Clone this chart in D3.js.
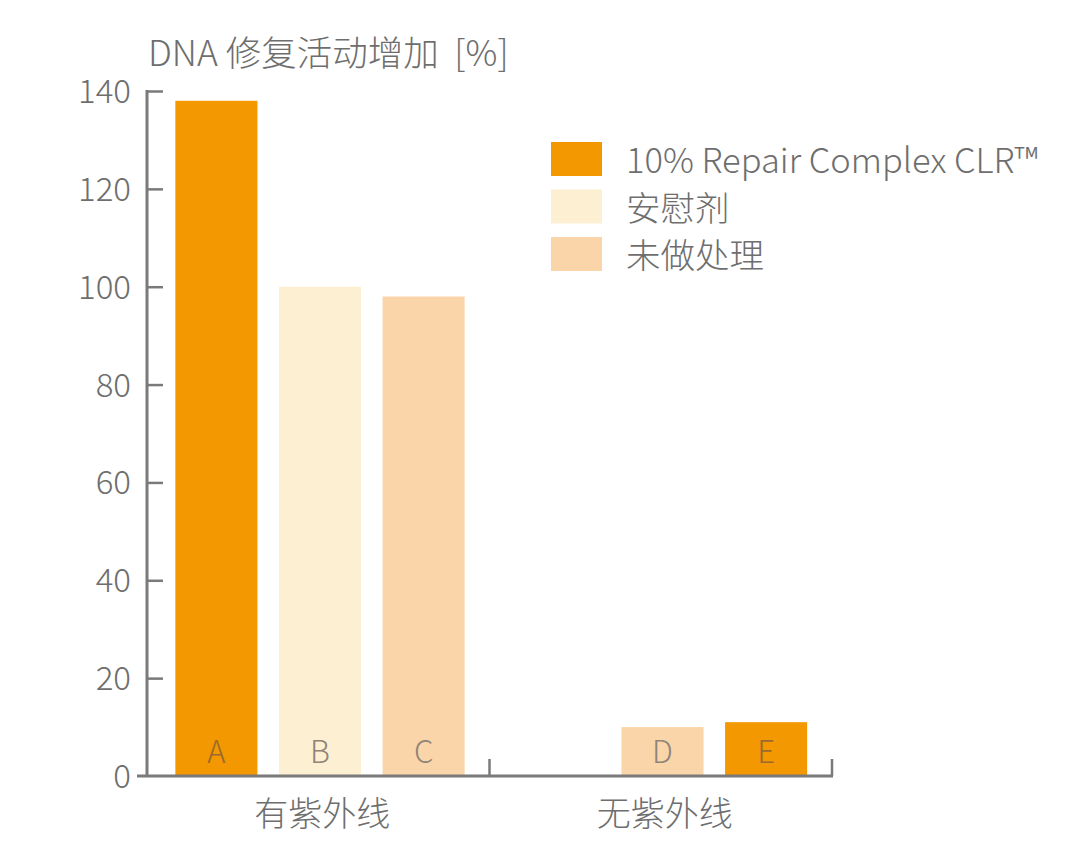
<!DOCTYPE html>
<html><head><meta charset="utf-8">
<script src="https://cdn.jsdelivr.net/npm/d3@7"></script>
<style>
html,body{margin:0;padding:0;background:#fff;}
text{font-family:"Noto Sans CJK SC","Noto Sans",sans-serif;font-weight:300;}
</style></head>
<body>
<svg id="chart" width="1080" height="848"></svg>
<script>
// ---- data ----
const groups = ["有紫外线", "无紫外线"];
const seriesNames = ["10% Repair Complex CLR™", "安慰剂", "未做处理"];
const seriesColors = ["#F39800", "#FDEFD2", "#FAD5AA"];
const barLetters = ["A", "B", "C", "D", "E"];
const barGroup = ["有紫外线", "有紫外线", "有紫外线", "无紫外线", "无紫外线"];
const barSlot = [0, 1, 2, 1, 2];
const barSeries = [0, 1, 2, 2, 0];
const barValues = [138, 100, 98, 10, 11];
const yTicks = [0, 20, 40, 60, 80, 100, 120, 140];
const yTitle = "DNA 修复活动增加\u00a0\u00a0[%]";

// ---- layout ----
const svg = d3.select("#chart");
const x0 = 147, x1 = 832, yBase = 776, yTop = 91;
const textColor = "#6e6e6e", axisColor = "#7a7a7a";

const y = d3.scaleLinear().domain([0, 140]).range([yBase, yTop]);
const xg = d3.scaleBand().domain(groups).range([x0, x1]);
const xs = d3.scaleBand().domain([0, 1, 2]).range([18, 328]).paddingInner(0.208).paddingOuter(0.1);

// bars
const bars = barValues.map((v, i) => ({v, i}));
svg.append("g").selectAll("rect").data(bars).join("rect")
  .attr("x", d => xg(barGroup[d.i]) + xs(barSlot[d.i]))
  .attr("width", xs.bandwidth())
  .attr("y", d => y(d.v))
  .attr("height", d => y(0) - y(d.v))
  .attr("fill", d => seriesColors[barSeries[d.i]]);

// letters inside bars
svg.append("g").selectAll("text").data(bars).join("text")
  .attr("x", d => xg(barGroup[d.i]) + xs(barSlot[d.i]) + xs.bandwidth() / 2)
  .attr("y", y(0) - 13)
  .attr("text-anchor", "middle")
  .attr("font-size", 31)
  .attr("fill", d => barSeries[d.i] === 0 ? "#9a6a2e" : "#8e8478")
  .text(d => barLetters[d.i]);

// y axis
const yAxis = d3.axisRight(y).tickValues(yTicks).tickSize(16).tickFormat("");
const gy = svg.append("g").attr("transform", `translate(${x0},0)`).call(yAxis);
gy.select(".domain").remove();
gy.selectAll(".tick line").attr("stroke", axisColor).attr("stroke-width", 2.5).filter(d => d === 0).remove();
gy.append("line").attr("x1", 0).attr("x2", 0).attr("y1", y(140) - 1).attr("y2", y(0))
  .attr("stroke", axisColor).attr("stroke-width", 3);
svg.append("g").selectAll("text").data(yTicks).join("text")
  .attr("x", 131).attr("y", d => y(d) + 12)
  .attr("text-anchor", "end").attr("font-size", 33).attr("fill", textColor)
  .text(d => d);

// x axis
const gx = svg.append("g").attr("transform", `translate(0,${yBase})`)
  .call(d3.axisTop(xg).tickValues([]).tickSize(0));
gx.select(".domain").remove();
gx.append("line").attr("x1", 137).attr("x2", x1 + 1).attr("y1", 0).attr("y2", 0)
  .attr("stroke", axisColor).attr("stroke-width", 3);
gx.selectAll("line.sep").data([xg(groups[1]), x1]).join("line").attr("class", "sep")
  .attr("x1", d => d).attr("x2", d => d).attr("y1", 0).attr("y2", -17)
  .attr("stroke", axisColor).attr("stroke-width", 2.5);
svg.append("g").selectAll("text").data(groups).join("text")
  .attr("x", d => xg(d) + xg.bandwidth() / 2 + 4).attr("y", 826)
  .attr("text-anchor", "middle").attr("font-size", 34).attr("fill", textColor)
  .text(d => d);

// title
svg.append("text").attr("x", 148).attr("y", 66).attr("font-size", 35.5).attr("fill", textColor)
  .text(yTitle);

// legend
const lg = svg.append("g");
seriesNames.forEach((name, i) => {
  lg.append("rect").attr("x", 551).attr("y", 142 + i * 47.5).attr("width", 51).attr("height", 34)
    .attr("fill", seriesColors[i]);
  lg.append("text").attr("x", 626).attr("y", 142 + i * 47.5 + 31).attr("font-size", 34.5)
    .attr("fill", textColor).text(name);
});
</script>
</body></html>
